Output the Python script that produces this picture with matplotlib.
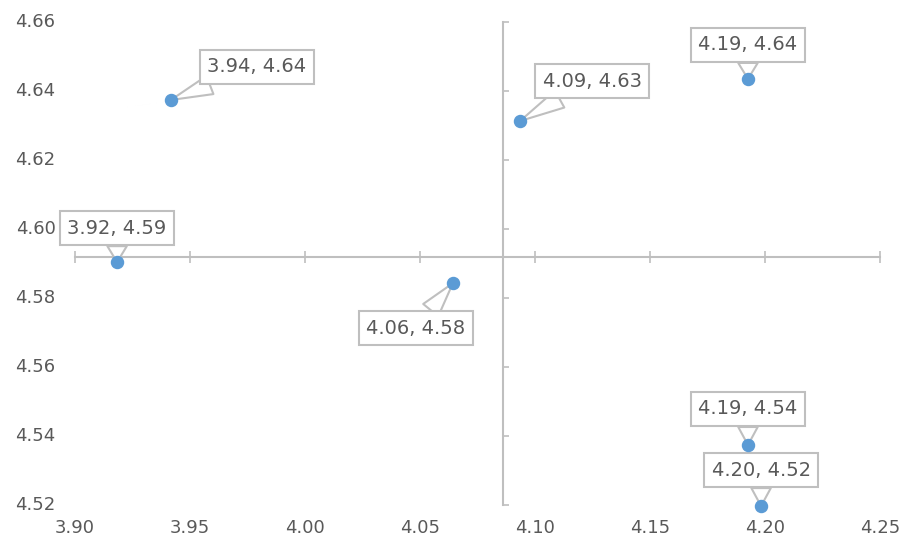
import numpy as np
import matplotlib
matplotlib.use('Agg')
import matplotlib.pyplot as plt

# data points
xs = [3.9417, 3.9183, 4.0643, 4.0935, 4.1926, 4.1926, 4.1983]
ys = [4.6374, 4.5904, 4.5843, 4.6313, 4.6435, 4.5374, 4.5197]
# label offsets in pixels (dx right, dy up)
offsets = [(86, 33), (0, 34), (-37, -45), (72, 40), (0, 34), (0, 36), (0, 36)]

xticks = [3.90, 3.95, 4.00, 4.05, 4.10, 4.15, 4.20, 4.25]
yticks = [4.52, 4.54, 4.56, 4.58, 4.60, 4.62, 4.64, 4.66]

grey = '#BFBFBF'
txt = '#595959'
blue = '#5B9BD5'

fig = plt.figure(figsize=(9.03, 5.46), dpi=100)
ax = fig.add_axes([75/903, 41/546, 805/903, 483/546])
ax.set_xlim(3.90, 4.25)
ax.set_ylim(4.52, 4.66)

# axes cross at the means, like excel's auto crossing
xc = np.mean(xs)
yc = np.mean(ys)
for s in ['top', 'right']:
    ax.spines[s].set_visible(False)
ax.spines['left'].set_position(('data', xc))
ax.spines['bottom'].set_position(('data', yc))
for s in ['left', 'bottom']:
    ax.spines[s].set_color(grey)
    ax.spines[s].set_linewidth(1.5)

ax.set_xticks(xticks)
ax.set_yticks(yticks)
ax.tick_params(axis='x', direction='inout', length=9, width=1.2, color=grey, labelbottom=False)
ax.tick_params(axis='y', direction='in', length=4.5, width=1.2, color=grey, labelleft=False)

# tick labels at the low side of the plot area
for v in yticks:
    ax.annotate('%.2f' % v, xy=(0, v), xycoords=('axes fraction', 'data'),
                xytext=(-14, 0), textcoords='offset points',
                ha='right', va='center', fontsize=13, color=txt, annotation_clip=False)
for v in xticks:
    ax.annotate('%.2f' % v, xy=(v, 0), xycoords=('data', 'axes fraction'),
                xytext=(0, -16.5), textcoords='offset points',
                ha='center', va='center', fontsize=13, color=txt, annotation_clip=False)

ax.scatter(xs, ys, s=75, color=blue, zorder=5, clip_on=False)

for x, y, (dx, dy) in zip(xs, ys, offsets):
    ax.annotate('%.2f, %.2f' % (x, y), xy=(x, y),
                xytext=(dx*0.72, dy*0.72), textcoords='offset points',
                ha='center', va='center', fontsize=14, color=txt, zorder=4,
                annotation_clip=False,
                bbox=dict(boxstyle='square,pad=0.4', fc='white', ec=grey, lw=1.5),
                arrowprops=dict(arrowstyle='wedge,tail_width=1.0', fc='white', ec=grey,
                                lw=1.5, shrinkA=0, shrinkB=0))

fig.savefig('out.png', dpi=100)
